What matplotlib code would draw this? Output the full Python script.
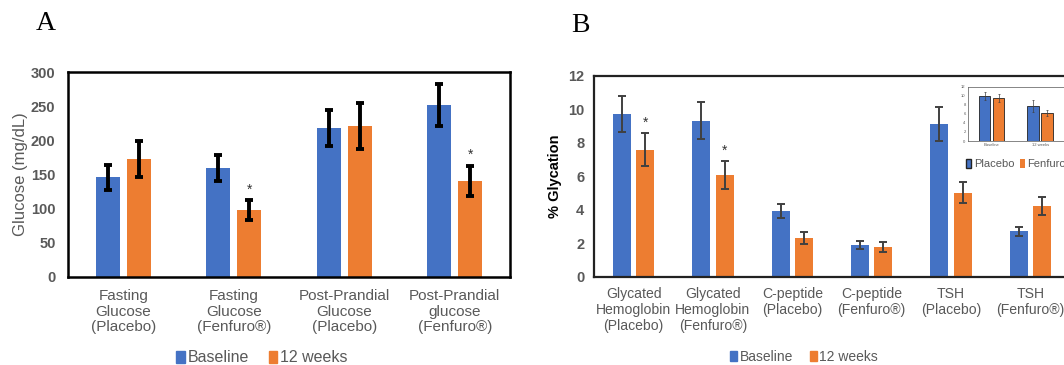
import matplotlib
matplotlib.use("Agg")
import matplotlib.pyplot as plt
import numpy as np
from matplotlib.patches import Patch

plt.rcParams['font.family'] = ['Liberation Sans', 'DejaVu Sans']

# ---- Data panel A ----
a_categories = ["Fasting\nGlucose\n(Placebo)", "Fasting\nGlucose\n(Fenfuro®)",
                "Post-Prandial\nGlucose\n(Placebo)", "Post-Prandial\nglucose\n(Fenfuro®)"]
a_baseline = [146, 160, 218, 252]
a_baseline_err = [18, 19, 27, 31]
a_12weeks = [173, 98, 221, 141]
a_12weeks_err = [26, 15, 33, 22]
a_sig = [False, True, False, True]
a_yticks = [0, 50, 100, 150, 200, 250, 300]

# ---- Data panel B ----
b_categories = ["Glycated\nHemoglobin\n(Placebo)", "Glycated\nHemoglobin\n(Fenfuro®)",
                "C-peptide\n(Placebo)", "C-peptide\n(Fenfuro®)",
                "TSH\n(Placebo)", "TSH\n(Fenfuro®)"]
b_baseline = [9.73, 9.33, 3.92, 1.93, 9.13, 2.73]
b_baseline_err = [1.05, 1.1, 0.42, 0.24, 1.02, 0.27]
b_12weeks = [7.6, 6.1, 2.33, 1.79, 5.03, 4.24]
b_12weeks_err = [1.0, 0.82, 0.36, 0.27, 0.62, 0.55]
b_sig = [True, True, False, False, False, False]
b_yticks = [0, 2, 4, 6, 8, 10, 12]

# ---- Inset data ----
inset_categories = ["Baseline", "12 weeks"]
inset_placebo = [9.9, 7.7]
inset_placebo_err = [0.9, 1.3]
inset_fenfuro = [9.5, 6.2]
inset_fenfuro_err = [0.9, 0.6]

BLUE = "#4472C4"
ORANGE = "#ED7D31"
GRAY = "#595959"

fig = plt.figure(figsize=(10.64, 3.65), dpi=100)

# ---------------- Panel A ----------------
axA = fig.add_axes([0.0639, 0.2411, 0.4154, 0.5616])
x = np.arange(len(a_categories))
off, w = 0.14, 0.22
ekwA = dict(ecolor='black', elinewidth=2.8, capsize=3, capthick=2.8)
axA.bar(x - off, a_baseline, w, color=BLUE, yerr=a_baseline_err, error_kw=ekwA)
axA.bar(x + off, a_12weeks, w, color=ORANGE, yerr=a_12weeks_err, error_kw=ekwA)
for i, s in enumerate(a_sig):
    if s:
        axA.text(x[i] + off, a_12weeks[i] + a_12weeks_err[i] + 5, "*",
                 ha='center', va='bottom', fontsize=10, color='#333333')
axA.set_xlim(-0.5, len(a_categories) - 0.5)
axA.set_ylim(0, 300)
axA.set_yticks(a_yticks)
axA.set_yticklabels([str(t) for t in a_yticks], fontsize=10.5, fontweight='bold', color=GRAY)
axA.set_xticks(x)
axA.set_xticklabels(a_categories, fontsize=11, color=GRAY, linespacing=1.1)
axA.tick_params(axis='x', length=0, pad=9)
axA.tick_params(axis='y', length=0, pad=9)
axA.set_ylabel("Glucose (mg/dL)", fontsize=12, color=GRAY, labelpad=2)
for sp in axA.spines.values():
    sp.set_linewidth(1.8)
    sp.set_color('black')

fig.text(45.7/1064, 1 - 23.3/365, "A", family='Liberation Serif', fontsize=20,
         ha='center', va='center')
fig.legend(handles=[Patch(color=BLUE, label="Baseline"), Patch(color=ORANGE, label="12 weeks")],
           loc='center', bbox_to_anchor=(262/1064, 1 - 358/365), ncol=2, frameon=False,
           handlelength=0.55, handleheight=0.8, handletextpad=0.2, columnspacing=1.2,
           labelcolor=GRAY, prop={'size': 11.5})

# ---------------- Panel B ----------------
axB = fig.add_axes([594/1064, 0.2411, 476/1064, 0.5507])
xb = np.arange(len(b_categories))
offb, wb = 0.148, 0.227
ekw = dict(ecolor='#404040', elinewidth=1.4, capsize=3, capthick=1.4)
axB.bar(xb - offb, b_baseline, wb, color=BLUE, yerr=b_baseline_err, error_kw=ekw)
axB.bar(xb + offb, b_12weeks, wb, color=ORANGE, yerr=b_12weeks_err, error_kw=ekw)
for i, s in enumerate(b_sig):
    if s:
        axB.text(xb[i] + offb, b_12weeks[i] + b_12weeks_err[i] + 0.2, "*",
                 ha='center', va='bottom', fontsize=10, color='#333333')
axB.set_xlim(-0.5, len(b_categories) - 0.5)
axB.set_ylim(0, 12)
axB.set_yticks(b_yticks)
axB.set_yticklabels([str(t) for t in b_yticks], fontsize=10.5, fontweight='bold', color=GRAY)
axB.set_xticks(xb)
axB.set_xticklabels(b_categories, fontsize=10.1, color=GRAY, linespacing=1.2)
axB.tick_params(axis='x', length=0, pad=7)
axB.tick_params(axis='y', length=0, pad=7)
axB.set_ylabel("% Glycation", fontsize=10.5, fontweight='bold', color='black', labelpad=4)
for sp in axB.spines.values():
    sp.set_linewidth(1.6)
    sp.set_color('#222222')

fig.text(580.7/1064, 1 - 25/365, "B", family='Liberation Serif', fontsize=20,
         ha='center', va='center')
fig.legend(handles=[Patch(color=BLUE, label="Baseline"), Patch(color=ORANGE, label="12 weeks")],
           loc='center', bbox_to_anchor=(804/1064, 1 - 357/365), ncol=2, frameon=False,
           handlelength=0.5, handleheight=0.8, handletextpad=0.2, columnspacing=1.2,
           labelcolor=GRAY, prop={'size': 10})

# ---------------- Inset ----------------
axI = fig.add_axes([967.7/1064, 1 - 141/365, 96/1064, 54.3/365])
xi = np.arange(len(inset_categories))
offi, wi = 0.144, 0.24
ekwi = dict(ecolor='#404040', elinewidth=0.5, capsize=1, capthick=0.5)
axI.bar(xi - offi, inset_placebo, wi, color=BLUE, edgecolor='#222222', linewidth=0.6,
        yerr=inset_placebo_err, error_kw=ekwi)
axI.bar(xi + offi, inset_fenfuro, wi, color=ORANGE, edgecolor='#222222', linewidth=0.6,
        yerr=inset_fenfuro_err, error_kw=ekwi)
axI.set_xlim(-0.49, 1.48)
axI.set_ylim(0, 12)
axI.set_yticks(b_yticks)
axI.set_yticklabels([str(t) for t in b_yticks], fontsize=3, color=GRAY)
axI.set_xticks(xi)
axI.set_xticklabels(inset_categories, fontsize=3, color=GRAY)
axI.tick_params(length=0, pad=1.5)
for sp in axI.spines.values():
    sp.set_linewidth(0.5)
    sp.set_color('#555555')
axI.spines['right'].set_visible(False)
fig.legend(handles=[Patch(facecolor=BLUE, edgecolor='#222222', label="Placebo"),
                    Patch(facecolor=ORANGE, label="Fenfuro")],
           loc='center', bbox_to_anchor=(1016/1064, 1 - 164/365), ncol=2, frameon=False,
           handlelength=0.5, handleheight=0.9, handletextpad=0.2, columnspacing=0.5,
           labelcolor=GRAY, prop={'size': 8})

fig.savefig("out.png", dpi=100)
